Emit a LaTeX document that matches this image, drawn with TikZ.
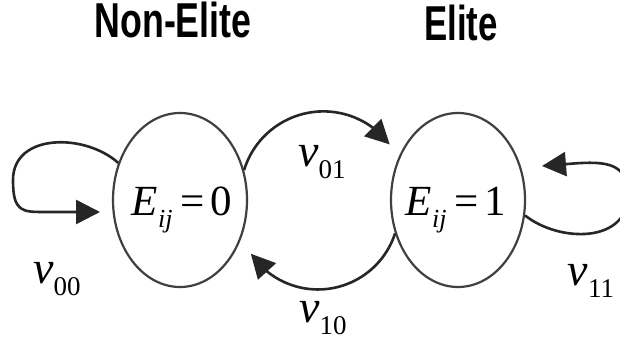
\documentclass[tikz,border=0pt]{standalone}
\usepackage{fontspec}
\setmainfont{Liberation Serif}
\newfontfamily\titlefont{Liberation Sans}
\usetikzlibrary{shapes.geometric,arrows.meta,bending}
\tikzset{
  statebox/.style={draw=black!75, line width=2.2pt, ellipse, minimum width=134pt, minimum height=174pt, inner sep=0pt},
  arr/.style={draw=black!85, line width=2.6pt, -{Triangle[length=24pt,width=24pt]}},
  ttl/.style={anchor=base, font=\titlefont\bfseries\fontsize{49}{49}\selectfont},
  lbl/.style={anchor=base, inner sep=0pt},
  eq/.style={anchor=base, inner sep=0pt, font=\fontsize{43}{43}\selectfont}
}
\newcommand{\nulab}[1]{\fontsize{46}{46}\selectfont\textit{ν}\raisebox{-12pt}{\fontsize{27}{27}\selectfont #1}}
\newcommand{\eqlab}[1]{\textit{E}\raisebox{-12pt}{\fontsize{26}{26}\selectfont\textit{ij}}\hspace{8pt}=\hspace{6pt}#1}
\begin{document}
\begin{tikzpicture}[x=1pt,y=1pt]
\clip (0,0) rectangle (620,343);
\fill[white] (0,0) rectangle (620,343);
% titles
\node[ttl] (tn) at (173,305) {\scalebox{0.73}[1]{Non-Elite}};
\node[ttl] (te) at (461,302) {\scalebox{0.71}[1]{Elite}};
% states
\node[statebox] (L) at (180,143) {};
\node[statebox] (R) at (458,143) {};
\node[eq] (eL) at (182,128) {\eqlab{0}};
\node[eq] (eR) at (456,128) {\eqlab{1}};
% tips
\coordinate (t00) at (100,131);
\coordinate (t11) at (542,177);
% connectors
\draw[arr] (L.25) arc[start angle=163, end angle=37, radius=83];
\draw[arr] (R.208) arc[start angle=-18, end angle=-146, radius=81];
\draw[arr] (L.149) .. controls (85,210) and (13,210) .. (13,163)
   .. controls (13,131) and (22,131) .. (45,131) -- (t00);
\draw[arr] (R.-13) .. controls (560,100) and (628,100) .. (628,148)
   .. controls (628,190) and (590,180) .. (t11);
% labels
\node[lbl] (n00) at (57,60) {\nulab{00}};
\node[lbl] (n01) at (322,176) {\nulab{01}};
\node[lbl] (n10) at (323,21) {\nulab{10}};
\node[lbl] (n11) at (591,58) {\nulab{11}};
\end{tikzpicture}
\end{document}
